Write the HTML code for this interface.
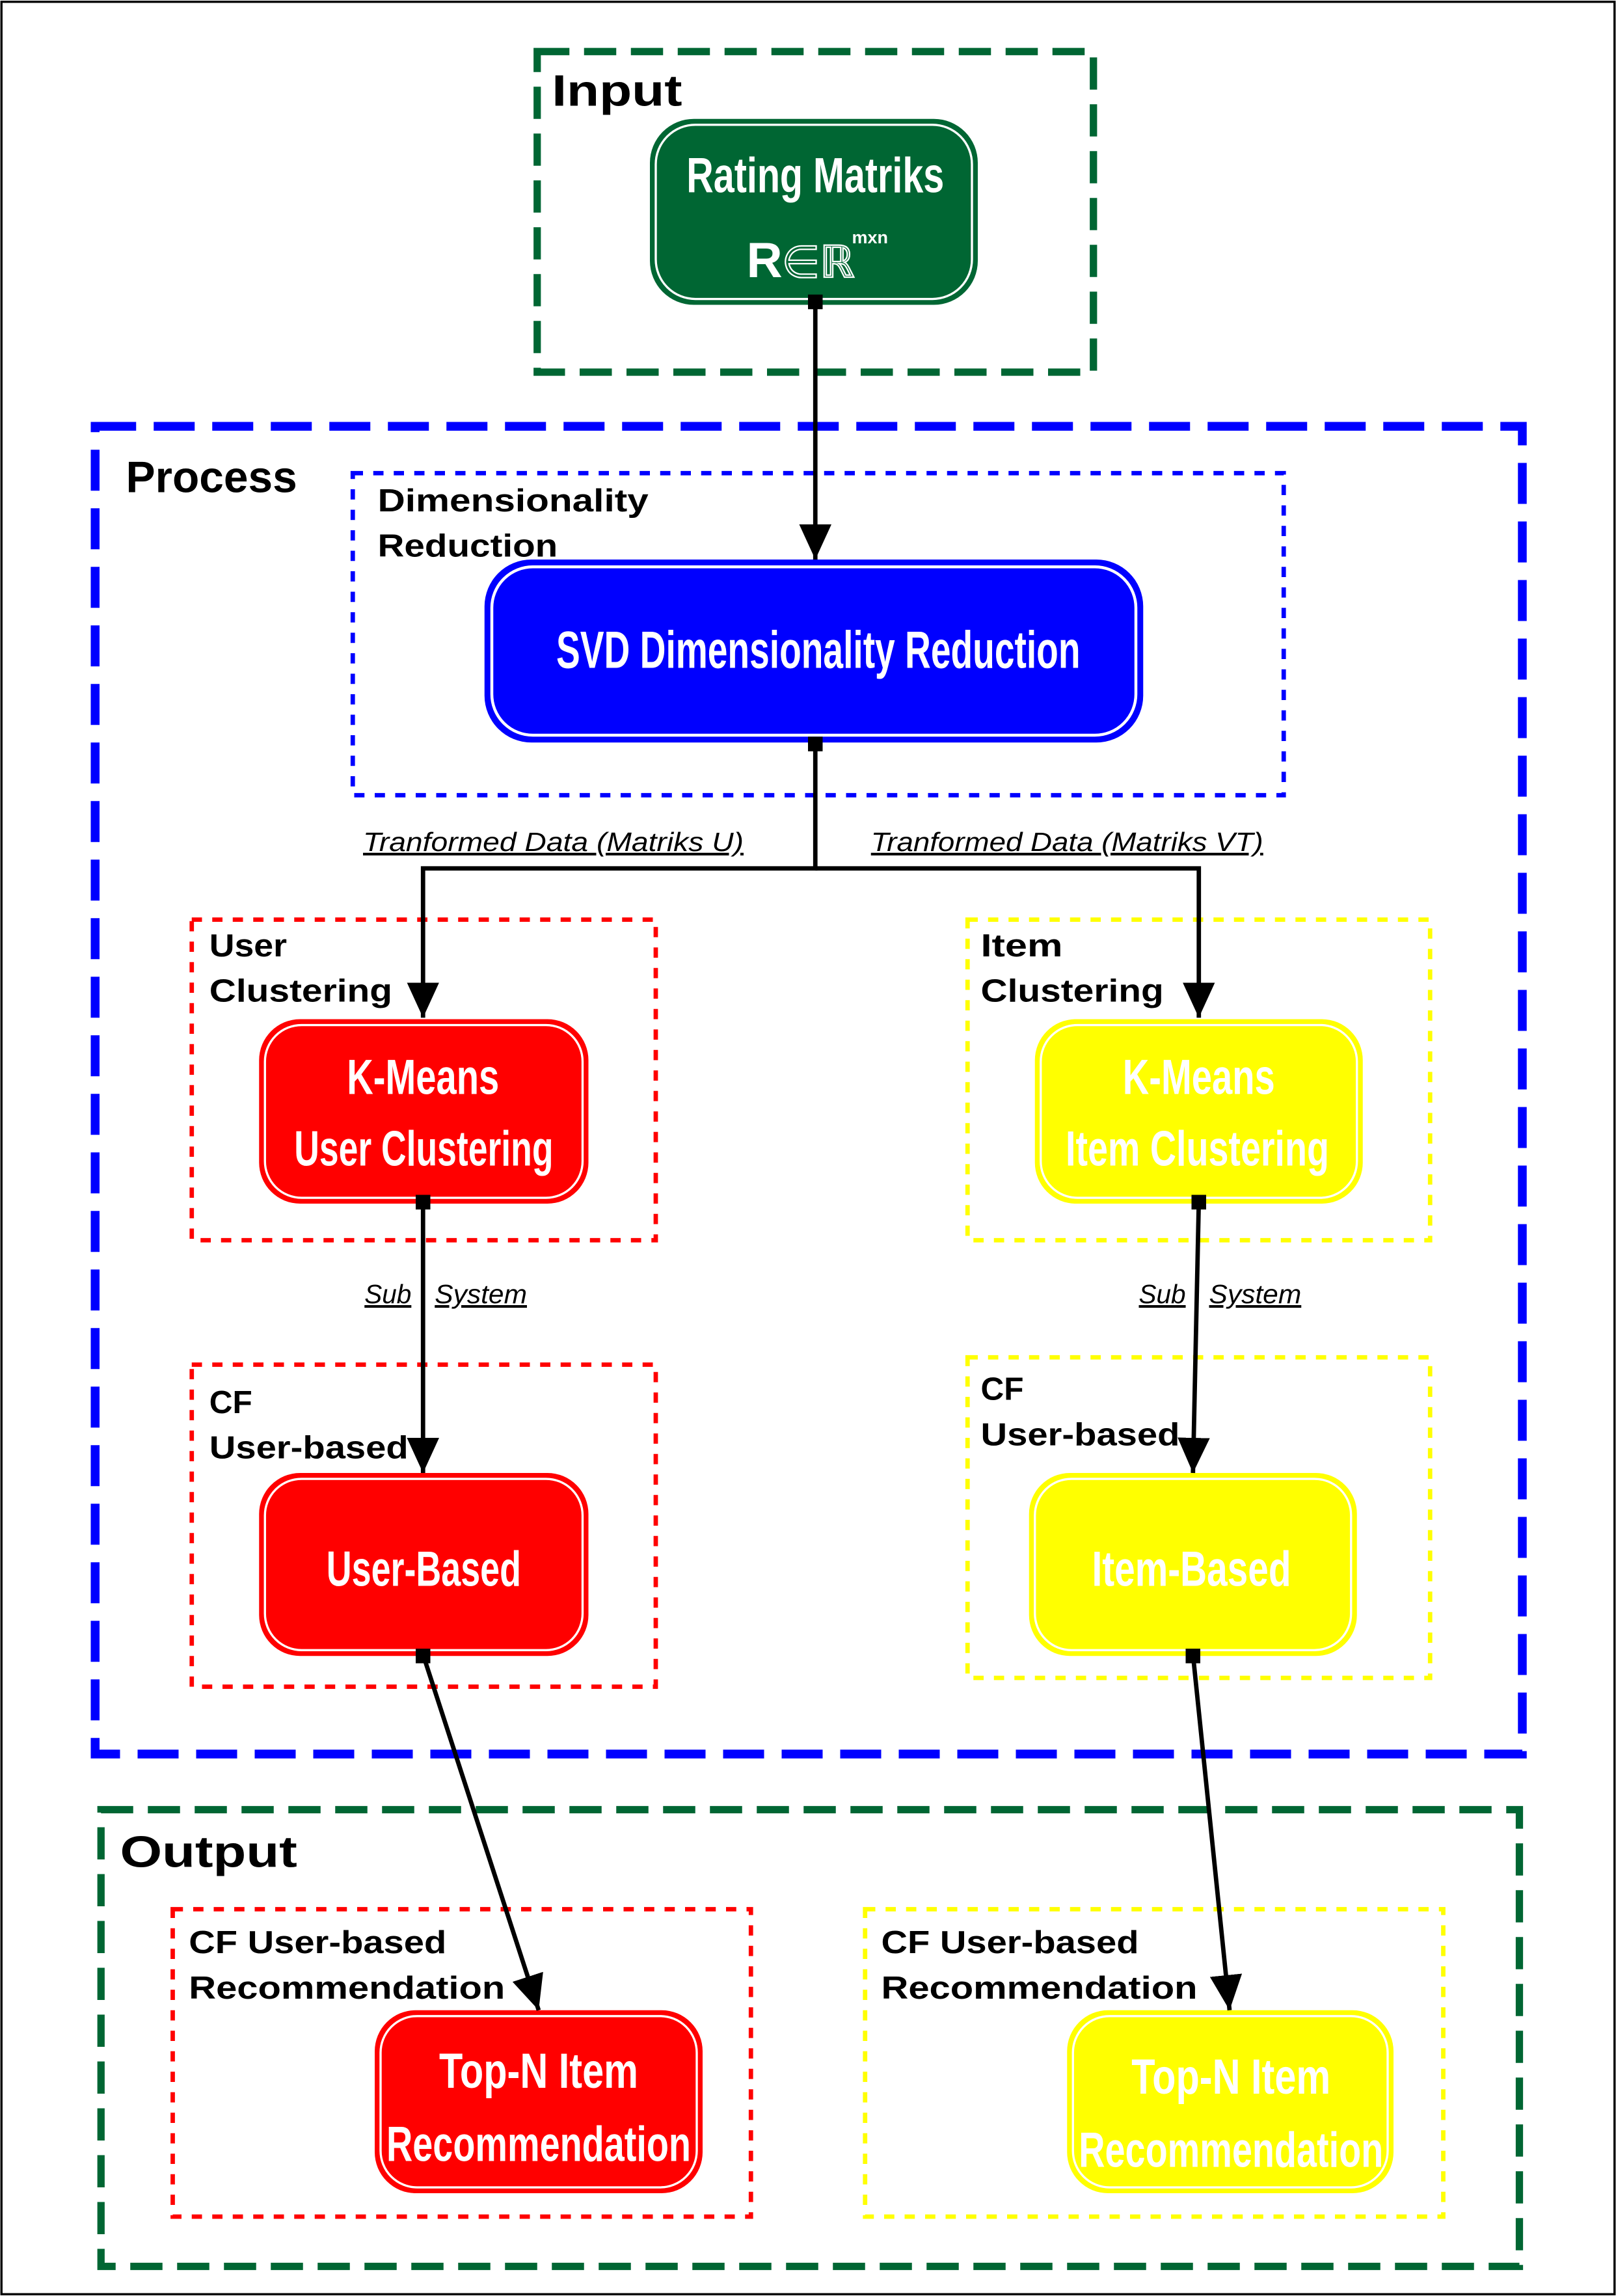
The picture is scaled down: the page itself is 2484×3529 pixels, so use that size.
<!DOCTYPE html>
<html><head><meta charset="utf-8"><style>
html,body{margin:0;padding:0;background:#fff}
svg{display:block}
.lab{font-family:"Liberation Sans",sans-serif;font-weight:bold;fill:#000}
.nt{font-family:"Liberation Sans Narrow","Liberation Sans",sans-serif;font-weight:bold;fill:#fff}
.it{font-family:"Liberation Sans",sans-serif;font-style:italic;font-size:18px;text-decoration:underline;fill:#000}
</style></head><body>
<svg width="2484" height="3529" viewBox="0 0 1104 1568" xmlns="http://www.w3.org/2000/svg">
<defs>
<marker id="ah" markerWidth="24" markerHeight="22" refX="24" refY="11" orient="auto" markerUnits="userSpaceOnUse" viewBox="0 0 24 22">
<path d="M0,0 L24,11 L0,22 z" fill="#000"/></marker>
</defs>
<rect x="1" y="1" width="1102" height="1566" fill="#fff" stroke="#000" stroke-width="1.5"/>

<!-- Input -->
<rect x="367" y="35" width="380" height="219" fill="none" stroke="#006633" stroke-width="5" stroke-dasharray="22,10"/>
<text x="377" y="72" class="lab" font-size="30" textLength="89" lengthAdjust="spacingAndGlyphs">Input</text>

<!-- Process -->
<rect x="65" y="291" width="975" height="907" fill="none" stroke="#0000FF" stroke-width="6" stroke-dasharray="28,12"/>
<text x="86" y="336" class="lab" font-size="30" textLength="117" lengthAdjust="spacingAndGlyphs">Process</text>
<rect x="241" y="323" width="636" height="220" fill="none" stroke="#0000FF" stroke-width="3" stroke-dasharray="7,7"/>
<text x="258" y="349" class="lab" font-size="22" textLength="185" lengthAdjust="spacingAndGlyphs">Dimensionality</text>
<text x="258" y="380" class="lab" font-size="22" textLength="123" lengthAdjust="spacingAndGlyphs">Reduction</text>

<rect x="131" y="628" width="317" height="219" fill="none" stroke="#FF0000" stroke-width="3" stroke-dasharray="7,7"/>
<text x="143" y="653" class="lab" font-size="22" textLength="53" lengthAdjust="spacingAndGlyphs">User</text>
<text x="143" y="684" class="lab" font-size="22" textLength="125" lengthAdjust="spacingAndGlyphs">Clustering</text>
<rect x="661" y="628" width="316" height="219" fill="none" stroke="#FFFF00" stroke-width="3" stroke-dasharray="7,7"/>
<text x="670" y="653" class="lab" font-size="22" textLength="56" lengthAdjust="spacingAndGlyphs">Item</text>
<text x="670" y="684" class="lab" font-size="22" textLength="125" lengthAdjust="spacingAndGlyphs">Clustering</text>

<rect x="131" y="932" width="317" height="220" fill="none" stroke="#FF0000" stroke-width="3" stroke-dasharray="7,7"/>
<text x="143" y="965" class="lab" font-size="22">CF</text>
<text x="143" y="996" class="lab" font-size="22" textLength="136" lengthAdjust="spacingAndGlyphs">User-based</text>
<rect x="661" y="927" width="316" height="219" fill="none" stroke="#FFFF00" stroke-width="3" stroke-dasharray="7,7"/>
<text x="670" y="956" class="lab" font-size="22">CF</text>
<text x="670" y="987" class="lab" font-size="22" textLength="136" lengthAdjust="spacingAndGlyphs">User-based</text>

<!-- Output -->
<rect x="69" y="1236" width="969" height="312" fill="none" stroke="#006633" stroke-width="5" stroke-dasharray="22,10"/>
<text x="82" y="1275" class="lab" font-size="30" textLength="121" lengthAdjust="spacingAndGlyphs">Output</text>
<rect x="118" y="1304" width="395" height="210" fill="none" stroke="#FF0000" stroke-width="3" stroke-dasharray="7,7"/>
<text x="129" y="1334" class="lab" font-size="22" textLength="176" lengthAdjust="spacingAndGlyphs">CF User-based</text>
<text x="129" y="1365" class="lab" font-size="22" textLength="216" lengthAdjust="spacingAndGlyphs">Recommendation</text>
<rect x="591" y="1304" width="395" height="210" fill="none" stroke="#FFFF00" stroke-width="3" stroke-dasharray="7,7"/>
<text x="602" y="1334" class="lab" font-size="22" textLength="176" lengthAdjust="spacingAndGlyphs">CF User-based</text>
<text x="602" y="1365" class="lab" font-size="22" textLength="216" lengthAdjust="spacingAndGlyphs">Recommendation</text>

<!-- Nodes -->
<g>
<rect x="444" y="81" width="224" height="127" rx="30" fill="#006633"/>
<rect x="448" y="85" width="216" height="119" rx="27" fill="none" stroke="#fff" stroke-width="1.5"/>
<text x="469" y="131" class="nt" font-size="34" textLength="176" lengthAdjust="spacingAndGlyphs">Rating Matriks</text>
<text x="510" y="189" class="nt" font-size="34">R</text>
<text x="534" y="189" fill="none" stroke="#fff" stroke-width="1" font-family="DejaVu Sans" font-size="30">∈ℝ</text>
<text x="582" y="166" class="nt" font-size="12">mxn</text>

<rect x="331" y="382" width="450" height="125" rx="32" fill="#0000FF"/>
<rect x="336" y="387" width="440" height="115" rx="28" fill="none" stroke="#fff" stroke-width="2"/>
<text x="380" y="456" class="nt" font-size="36" textLength="358" lengthAdjust="spacingAndGlyphs">SVD Dimensionality Reduction</text>

<rect x="177" y="696" width="225" height="126" rx="28" fill="#FF0000"/>
<rect x="181" y="700" width="217" height="118" rx="25" fill="none" stroke="#fff" stroke-width="1.5"/>
<text x="237" y="747" class="nt" font-size="34" textLength="104" lengthAdjust="spacingAndGlyphs">K-Means</text>
<text x="201" y="796" class="nt" font-size="34" textLength="177" lengthAdjust="spacingAndGlyphs">User Clustering</text>

<rect x="707" y="696" width="224" height="126" rx="28" fill="#FFFF00"/>
<rect x="711" y="700" width="216" height="118" rx="25" fill="none" stroke="#fff" stroke-width="1.5"/>
<text x="767" y="747" class="nt" font-size="34" textLength="104" lengthAdjust="spacingAndGlyphs">K-Means</text>
<text x="728" y="796" class="nt" font-size="34" textLength="180" lengthAdjust="spacingAndGlyphs">Item Clustering</text>

<rect x="177" y="1006" width="225" height="125" rx="28" fill="#FF0000"/>
<rect x="181" y="1010" width="217" height="117" rx="25" fill="none" stroke="#fff" stroke-width="1.5"/>
<text x="223" y="1083" class="nt" font-size="34" textLength="133" lengthAdjust="spacingAndGlyphs">User-Based</text>

<rect x="703" y="1006" width="224" height="125" rx="28" fill="#FFFF00"/>
<rect x="707" y="1010" width="216" height="117" rx="25" fill="none" stroke="#fff" stroke-width="1.5"/>
<text x="746" y="1083" class="nt" font-size="34" textLength="136" lengthAdjust="spacingAndGlyphs">Item-Based</text>

<rect x="256" y="1373" width="224" height="125" rx="28" fill="#FF0000"/>
<rect x="260" y="1377" width="216" height="117" rx="25" fill="none" stroke="#fff" stroke-width="1.5"/>
<text x="300" y="1426" class="nt" font-size="34" textLength="136" lengthAdjust="spacingAndGlyphs">Top-N Item</text>
<text x="264" y="1476" class="nt" font-size="34" textLength="208" lengthAdjust="spacingAndGlyphs">Recommendation</text>

<rect x="729" y="1373" width="223" height="125" rx="28" fill="#FFFF00"/>
<rect x="733" y="1377" width="215" height="117" rx="25" fill="none" stroke="#fff" stroke-width="1.5"/>
<text x="773" y="1430" class="nt" font-size="34" textLength="136" lengthAdjust="spacingAndGlyphs">Top-N Item</text>
<text x="737" y="1480" class="nt" font-size="34" textLength="208" lengthAdjust="spacingAndGlyphs">Recommendation</text>
</g>

<!-- Connectors -->
<g stroke="#000" stroke-width="3" fill="none">
<line x1="557" y1="206" x2="557" y2="382" marker-end="url(#ah)"/>
<polyline points="557,507 557,593 289,593 289,695" marker-end="url(#ah)"/>
<polyline points="557,593 819,593 819,695" marker-end="url(#ah)"/>
<line x1="289" y1="820" x2="289" y2="1006" marker-end="url(#ah)"/>
<line x1="819" y1="820" x2="815" y2="1006" marker-end="url(#ah)"/>
<line x1="289" y1="1130" x2="368" y2="1373" marker-end="url(#ah)"/>
<line x1="815" y1="1130" x2="840" y2="1373" marker-end="url(#ah)"/>
</g>
<g fill="#000">
<rect x="552" y="201" width="10" height="10"/>
<rect x="552" y="503" width="10" height="10"/>
<rect x="284" y="816" width="10" height="10"/>
<rect x="814" y="816" width="10" height="10"/>
<rect x="284" y="1126" width="10" height="10"/>
<rect x="810" y="1126" width="10" height="10"/>
</g>

<text x="248" y="581" class="it" textLength="260" lengthAdjust="spacingAndGlyphs">Tranformed Data (Matriks U)</text>
<text x="595" y="581" class="it" textLength="268" lengthAdjust="spacingAndGlyphs">Tranformed Data (Matriks VT)</text>
<text x="249" y="890" class="it">Sub</text>
<text x="297" y="890" class="it" textLength="63" lengthAdjust="spacingAndGlyphs">System</text>
<text x="778" y="890" class="it">Sub</text>
<text x="826" y="890" class="it" textLength="63" lengthAdjust="spacingAndGlyphs">System</text>
</svg>
</body></html>
